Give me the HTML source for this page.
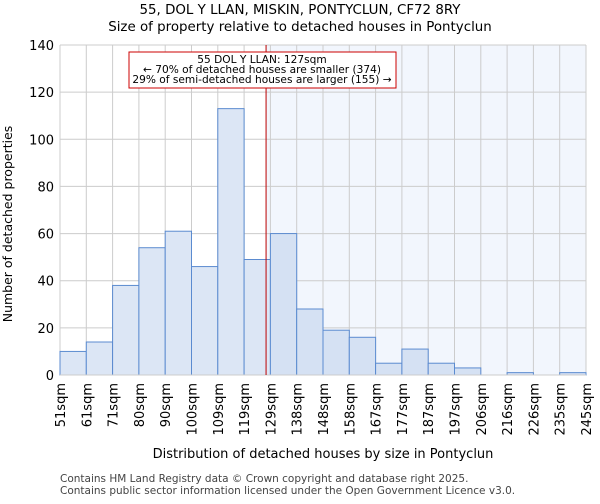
<!DOCTYPE html>
<html><head><meta charset="utf-8"><style>
body{margin:0;background:#fff;font-family:"DejaVu Sans","Liberation Sans",sans-serif}
</style></head><body>
<svg width="600" height="500" xmlns="http://www.w3.org/2000/svg" font-family="DejaVu Sans, Liberation Sans, sans-serif">
<text x="300" y="14" text-anchor="middle" font-size="13.4">55, DOL Y LLAN, MISKIN, PONTYCLUN, CF72 8RY</text>
<text x="300" y="31" text-anchor="middle" font-size="13.4">Size of property relative to detached houses in Pontyclun</text>
<g id="g"></g>
<text x="323" y="458" text-anchor="middle" font-size="13">Distribution of detached houses by size in Pontyclun</text>
<text x="12" y="224" text-anchor="middle" font-size="12.5" transform="rotate(-90 12 224)">Number of detached properties</text>
<text x="60" y="482" font-size="10.5" fill="#444">Contains HM Land Registry data © Crown copyright and database right 2025.</text>
<text x="60" y="494" font-size="10.5" fill="#444">Contains public sector information licensed under the Open Government Licence v3.0.</text>
</svg>
<script>
const categories=["51sqm","61sqm","71sqm","80sqm","90sqm","100sqm","109sqm","119sqm","129sqm","138sqm","148sqm","158sqm","167sqm","177sqm","187sqm","197sqm","206sqm","216sqm","226sqm","235sqm","245sqm"];
const counts=[10,14,38,54,61,46,113,49,60,28,19,16,5,11,5,3,0,1,0,1];
const yTicks=[0,20,40,60,80,100,120,140];
const binStart=51, binStep=9.7, propertySize=127;
const NS="http://www.w3.org/2000/svg";
const g=document.getElementById('g');
const L=60,R=586,T=45,B=375,n=counts.length,bw=(R-L)/n;
const X=i=>L+i*bw, Y=v=>B-(v/140)*(B-T);
const xv=s=>L+(s-binStart)/binStep*bw;
function mk(t,a){const e=document.createElementNS(NS,t);for(const k in a)e.setAttribute(k,a[k]);g.appendChild(e);return e;}
const px=xv(propertySize);
let e=mk('rect',{x:px,y:T,width:R-px,height:B-T,fill:'#f2f6fd'});


yTicks.forEach(v=>{let l=mk('line',{x1:L,x2:R,y1:Y(v),y2:Y(v),stroke:'#ccc'});


let t=mk('text',{x:L-6,y:Y(v)+5,'text-anchor':'end','font-size':13});t.textContent=v;

});
categories.forEach((c,i)=>{let l=mk('line',{x1:X(i),x2:X(i),y1:T,y2:B,stroke:'#ccc'});


let t=mk('text',{x:0,y:0,'text-anchor':'end','font-size':13,transform:`translate(${X(i)+5},${B+8}) rotate(-90)`});t.textContent=c;

});
counts.forEach((v,i)=>{const right=X(i)>=px-bw/2;
let r=mk('rect',{x:X(i),y:Y(v),width:bw,height:B-Y(v),fill:right?'#d5e1f3':'#dce6f5',stroke:'#5b8bd0','stroke-width':1});

});
let ax=mk('line',{x1:L,x2:R,y1:B,y2:B,stroke:'#ccc'});


let ml=mk('line',{x1:px,x2:px,y1:T,y2:B,stroke:'#b00','stroke-width':1});


let bx=mk('rect',{x:129,y:52,width:267,height:36,fill:'#fff',stroke:'#c00'});


["55 DOL Y LLAN: 127sqm","← 70% of detached houses are smaller (374)","29% of semi-detached houses are larger (155) →"].forEach((s,i)=>{
let t=mk('text',{x:262,y:63+i*10,'text-anchor':'middle','font-size':10.6});t.textContent=s;

});
</script>
</body></html>
